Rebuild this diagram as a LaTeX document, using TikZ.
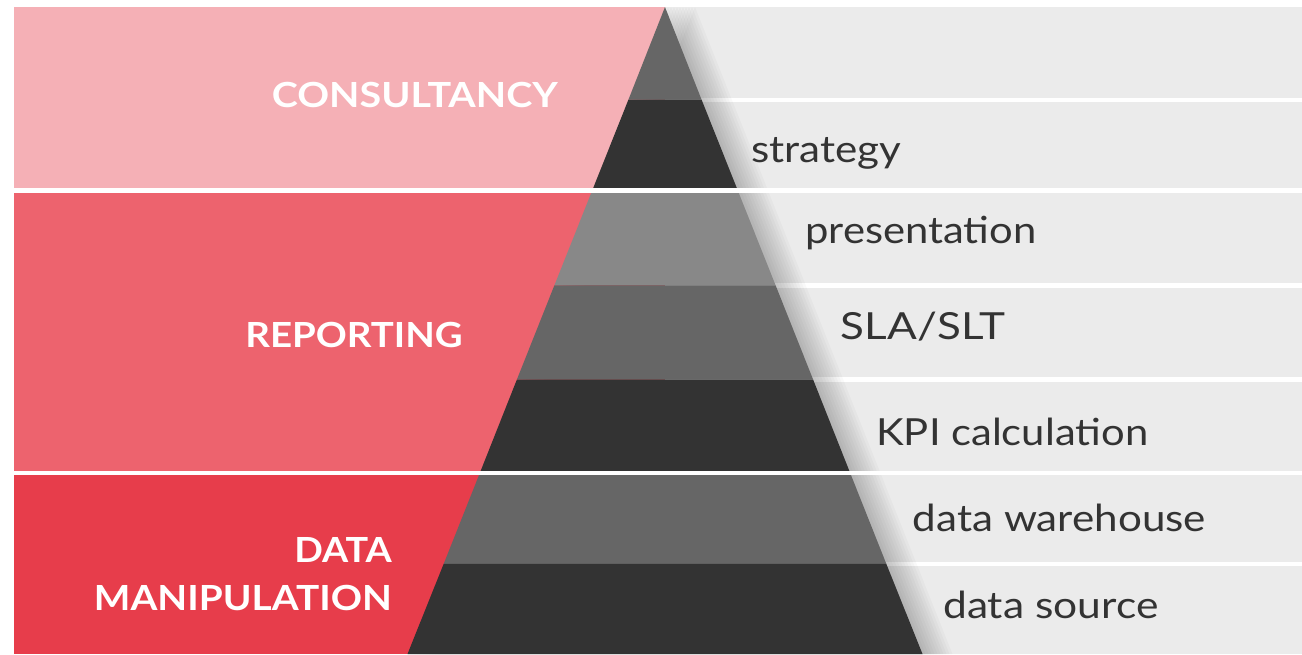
\documentclass[tikz,border=0pt]{standalone}
\usepackage{fontspec}
\setmainfont{Lato}
\definecolor{pinkA}{HTML}{F5B0B6}
\definecolor{redB}{HTML}{ED636E}
\definecolor{redC}{HTML}{E73D4B}
\definecolor{bandgray}{HTML}{EBEBEB}
\definecolor{pyrA}{HTML}{666666}
\definecolor{pyrB}{HTML}{333333}
\definecolor{pyrC}{HTML}{888888}
\definecolor{txt}{HTML}{333333}
\newcommand{\wide}[2]{\scalebox{#1}[1]{#2}}
\tikzset{
  lefttxt/.style={inner sep=0pt, anchor=base east, text=white, font=\fontsize{34.6}{40}\selectfont\bfseries},
  righttxt/.style={inner sep=0pt, anchor=base west, text=txt, font=\fontsize{37.3}{42}\selectfont},
  sepline/.style={draw=white, line width=4.4pt},
}
\begin{document}
\begin{tikzpicture}[x=1pt,y=-1pt]
\useasboundingbox (0,0) rectangle (1302,654);
\fill[white] (0,0) rectangle (1302,654);
% left regions
\fill[pinkA] (14,7) rectangle (665,190.5);
\fill[redB] (14,190.5) rectangle (665,472.8);
\fill[redC] (14,472.8) rectangle (665,654);
% right bands
\fill[bandgray] (665,7) rectangle (1302,654);
\foreach \yy in {99.7,285.3,379.5,563.8}
  \draw[sepline] (665,\yy) -- (1302,\yy);
% shadow
\foreach \d in {3,6,...,30}
  \fill[black, opacity=0.022] (665+\d,7) -- (922.5+\d,654) -- (407.5+\d,654) -- cycle;
% pyramid layers
\fill[pyrA] (665,7) -- (701.6,99.7) -- (628.4,99.7) -- cycle;
\fill[pyrB] (628.4,99.7) -- (701.6,99.7) -- (737.8,190.5) -- (592.2,190.5) -- cycle;
\fill[pyrC] (592.2,190.5) -- (737.8,190.5) -- (775.6,285.3) -- (554.4,285.3) -- cycle;
\fill[pyrA] (554.4,285.3) -- (775.6,285.3) -- (813.1,379.5) -- (516.9,379.5) -- cycle;
\fill[pyrB] (516.9,379.5) -- (813.1,379.5) -- (850.1,472.8) -- (479.9,472.8) -- cycle;
\fill[pyrA] (479.9,472.8) -- (850.1,472.8) -- (886.3,563.8) -- (443.7,563.8) -- cycle;
\fill[pyrB] (443.7,563.8) -- (886.3,563.8) -- (922.5,654) -- (407.5,654) -- cycle;
% full-width separators
\draw[sepline] (14,190.5) -- (1302,190.5);
\draw[sepline] (14,472.8) -- (1302,472.8);
% left labels
\node[lefttxt] (cons) at (558,107.7) {\wide{1.14}{CONSULTANCY}};
\node[lefttxt] (rep) at (463,347.3) {\wide{1.11}{REPORTING}};
\node[lefttxt] (data) at (392,562.3) {\wide{1.09}{DATA}};
\node[lefttxt] (manip) at (392,610) {\wide{1.12}{MANIPULATION}};
% right labels
\node[righttxt] (strat) at (751,162.7) {\wide{1.13}{strategy}};
\node[righttxt] (pres) at (805,243) {\wide{1.12}{presentation}};
\node[righttxt] (sla) at (840.7,339.3) {\wide{1.18}{SLA/SLT}};
\node[righttxt] (kpi) at (876,445) {\wide{1.12}{KPI calculation}};
\node[righttxt] (dwh) at (912.7,531.7) {\wide{1.13}{data warehouse}};
\node[righttxt] (dsrc) at (943,618.3) {\wide{1.14}{data source}};
\end{tikzpicture}
\end{document}
